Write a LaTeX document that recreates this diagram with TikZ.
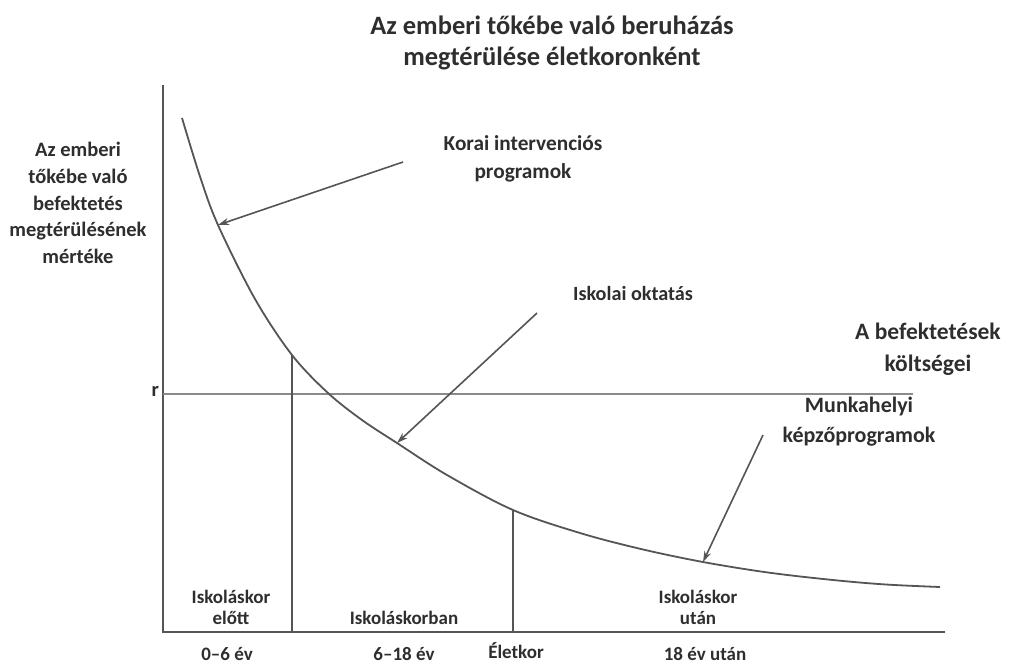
\documentclass[tikz,border=0pt]{standalone}
\usepackage{fontspec}
\setmainfont{Carlito}
\usetikzlibrary{arrows.meta}
\definecolor{ink}{HTML}{2E2E2E}
\definecolor{linec}{HTML}{555555}
\definecolor{rline}{HTML}{8A8A8A}
\begin{document}
\begin{tikzpicture}[x=1pt,y=-1pt,
  base/.style={text=ink,align=center,inner sep=0pt},
  ylbl/.style={base,font=\bfseries\fontsize{20.5}{26.7}\selectfont},
  ttl/.style={base,font=\bfseries\fontsize{26.5}{31}\selectfont},
  sml/.style={base,font=\bfseries\fontsize{19}{21}\selectfont},
  axis/.style={draw=linec,line width=1.8pt},
  thin/.style={draw=linec,line width=1.4pt},
  curvest/.style={draw=linec,line width=1.8pt},
  ptr/.style={draw=linec,line width=1.6pt,-{Stealth[length=11pt,width=7pt]}}]
\useasboundingbox (0,0) rectangle (1011,665);
% axes
\coordinate (O) at (163,632);
\coordinate (ytop) at (163,85);
\coordinate (xend) at (945,632);
\draw[axis] (ytop) -- (O) -- (xend);
% r line
\coordinate (r0) at (163,394);
\coordinate (r1) at (913,394);
\draw[draw=rline,line width=2.4pt] (r0) -- (r1);
\node[ylbl,anchor=east] (r) at (159,391) {r};
% curve
\draw[curvest] plot[smooth,tension=0.55] coordinates {(182,118) (200,176.5) (218,225) (255,299) (292,355) (328,393) (362,420) (397,443) (447,475) (513,510) (580,533) (641,549) (703,562) (768,572.5) (833,580) (886,584.5) (940,587)};
\coordinate (c1) at (218,225);
\coordinate (c2) at (397,443);
\coordinate (c3) at (703,562);
\coordinate (v1top) at (292,355);
\coordinate (v2top) at (513,510);
\coordinate (v1bot) at (292,632);
\coordinate (v2bot) at (513,632);
\draw[thin] (v1top) -- (v1bot);
\draw[thin] (v2top) -- (v2bot);
% title
\node[ttl] (title) at (552,42.5) {Az emberi tőkébe való beruházás\\megtérülése életkoronként};
% y label
\node[ylbl] (ylab) at (78,203) {Az emberi\\tőkébe való\\befektetés\\megtérülésének\\mértéke};
% annotations
\node[base,font=\bfseries\fontsize{21.3}{28}\selectfont] (korai) at (523,159) {Korai intervenciós\\programok};
\node[base,font=\bfseries\fontsize{20.2}{24}\selectfont] (iskolai) at (633,293) {Iskolai oktatás};
\node[base,font=\bfseries\fontsize{23.5}{32}\selectfont] (befekt) at (928,349) {A befektetések\\költségei};
\node[base,font=\bfseries\fontsize{22}{30}\selectfont] (munka) at (859,422) {Munkahelyi\\képzőprogramok};
\coordinate (a1) at (403,162);
\coordinate (a2) at (537,313);
\coordinate (a3) at (763,435);
\draw[ptr] (a1) -- (c1);
\draw[ptr] (a2) -- (c2);
\draw[ptr] (a3) -- (c3);
% bottom labels
\node[sml] (elott) at (231,607) {Iskoláskor\\előtt};
\node[sml] (alatt) at (404,618) {Iskoláskorban};
\node[sml] (utan) at (698,607) {Iskoláskor\\után};
\node[sml] (a06) at (227,654) {0–6 év};
\node[sml] (a618) at (404,654) {6–18 év};
\node[sml] (elet) at (516,651) {Életkor};
\node[sml] (a18) at (705,654) {18 év után};
\end{tikzpicture}
\end{document}
